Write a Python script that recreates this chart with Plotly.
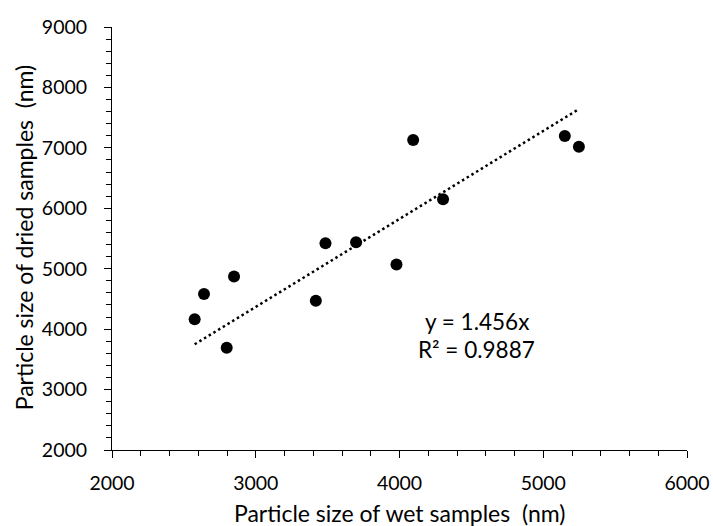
import plotly.graph_objects as go

# Data
wet_nm = [2575, 2640, 2798, 2849, 3418, 3485, 3698, 3979, 4095, 4303, 5150, 5248]
dried_nm = [4165, 4583, 3691, 4870, 4468, 5421, 5438, 5068, 7129, 6149, 7195, 7018]
slope = 1.456
r2 = 0.9887
x_ticks = [2000, 3000, 4000, 5000, 6000]
y_ticks = [2000, 3000, 4000, 5000, 6000, 7000, 8000, 9000]
x_title = "Particle size of wet samples\u00a0 (nm)"
y_title = "Particle size of dried samples\u00a0 (nm)"

trend_x = [min(wet_nm), max(wet_nm)]
trend_y = [slope * v for v in trend_x]

FONT = "Lato"
FS = 22.5      # annotation text
FS_T = 23      # axis titles
FS_K = 19.5    # tick labels
fig = go.Figure()
fig.add_trace(go.Scatter(x=trend_x, y=trend_y, mode="lines",
                         line=dict(color="black", width=2.5, dash="2.5px,3px"),
                         hoverinfo="skip", showlegend=False))
fig.add_trace(go.Scatter(x=wet_nm, y=dried_nm, mode="markers",
                         marker=dict(color="black", size=12),
                         showlegend=False))

fig.add_annotation(x=4536, y=4126, text=f"y = {slope}x", showarrow=False,
                   font=dict(family=FONT, size=FS, color="black"))
fig.add_annotation(x=4536, y=3658, text=f"R² = {r2}", showarrow=False,
                   font=dict(family=FONT, size=FS, color="black"))

# Axis titles (placed like the reference)
fig.add_annotation(xref="paper", yref="paper", x=0.5, y=-0.149, text=x_title,
                   showarrow=False, xanchor="center", yanchor="middle",
                   font=dict(family=FONT, size=FS_T, color="black"))
fig.add_annotation(xref="paper", yref="paper", x=-0.153, y=0.503, text=y_title,
                   showarrow=False, textangle=-90, xanchor="center", yanchor="middle",
                   font=dict(family=FONT, size=FS_T, color="black"))

axis_common = dict(showgrid=False, zeroline=False, showline=True, automargin=False,
                   linecolor="black", linewidth=1, ticks="outside",
                   tickcolor="black", tickwidth=1, ticklen=7,
                   ticklabeloverflow="allow",
                   tickfont=dict(family=FONT, size=FS_K, color="black"))

fig.update_xaxes(range=[2000, 6000], tickvals=x_ticks, ticktext=[str(v) for v in x_ticks],
                 minor=dict(dtick=200, tick0=2000, ticks="outside", ticklen=5,
                            tickcolor="black", tickwidth=1),
                 ticklabelstandoff=9, **axis_common)
fig.update_yaxes(range=[2000, 9000], tickvals=y_ticks, ticktext=[str(v) for v in y_ticks],
                 minor=dict(dtick=200, tick0=2000, ticks="outside", ticklen=5,
                            tickcolor="black", tickwidth=1),
                 ticklabelstandoff=13, **axis_common)

fig.update_layout(width=713, height=526, margin=dict(l=112, r=26, t=27, b=76),
                  paper_bgcolor="white", plot_bgcolor="white",
                  font=dict(family=FONT, size=FS, color="black"))
fig.write_html("out.html", config={"displayModeBar": False},
               post_script="document.body.style.margin='0';document.body.style.overflow='hidden';")
